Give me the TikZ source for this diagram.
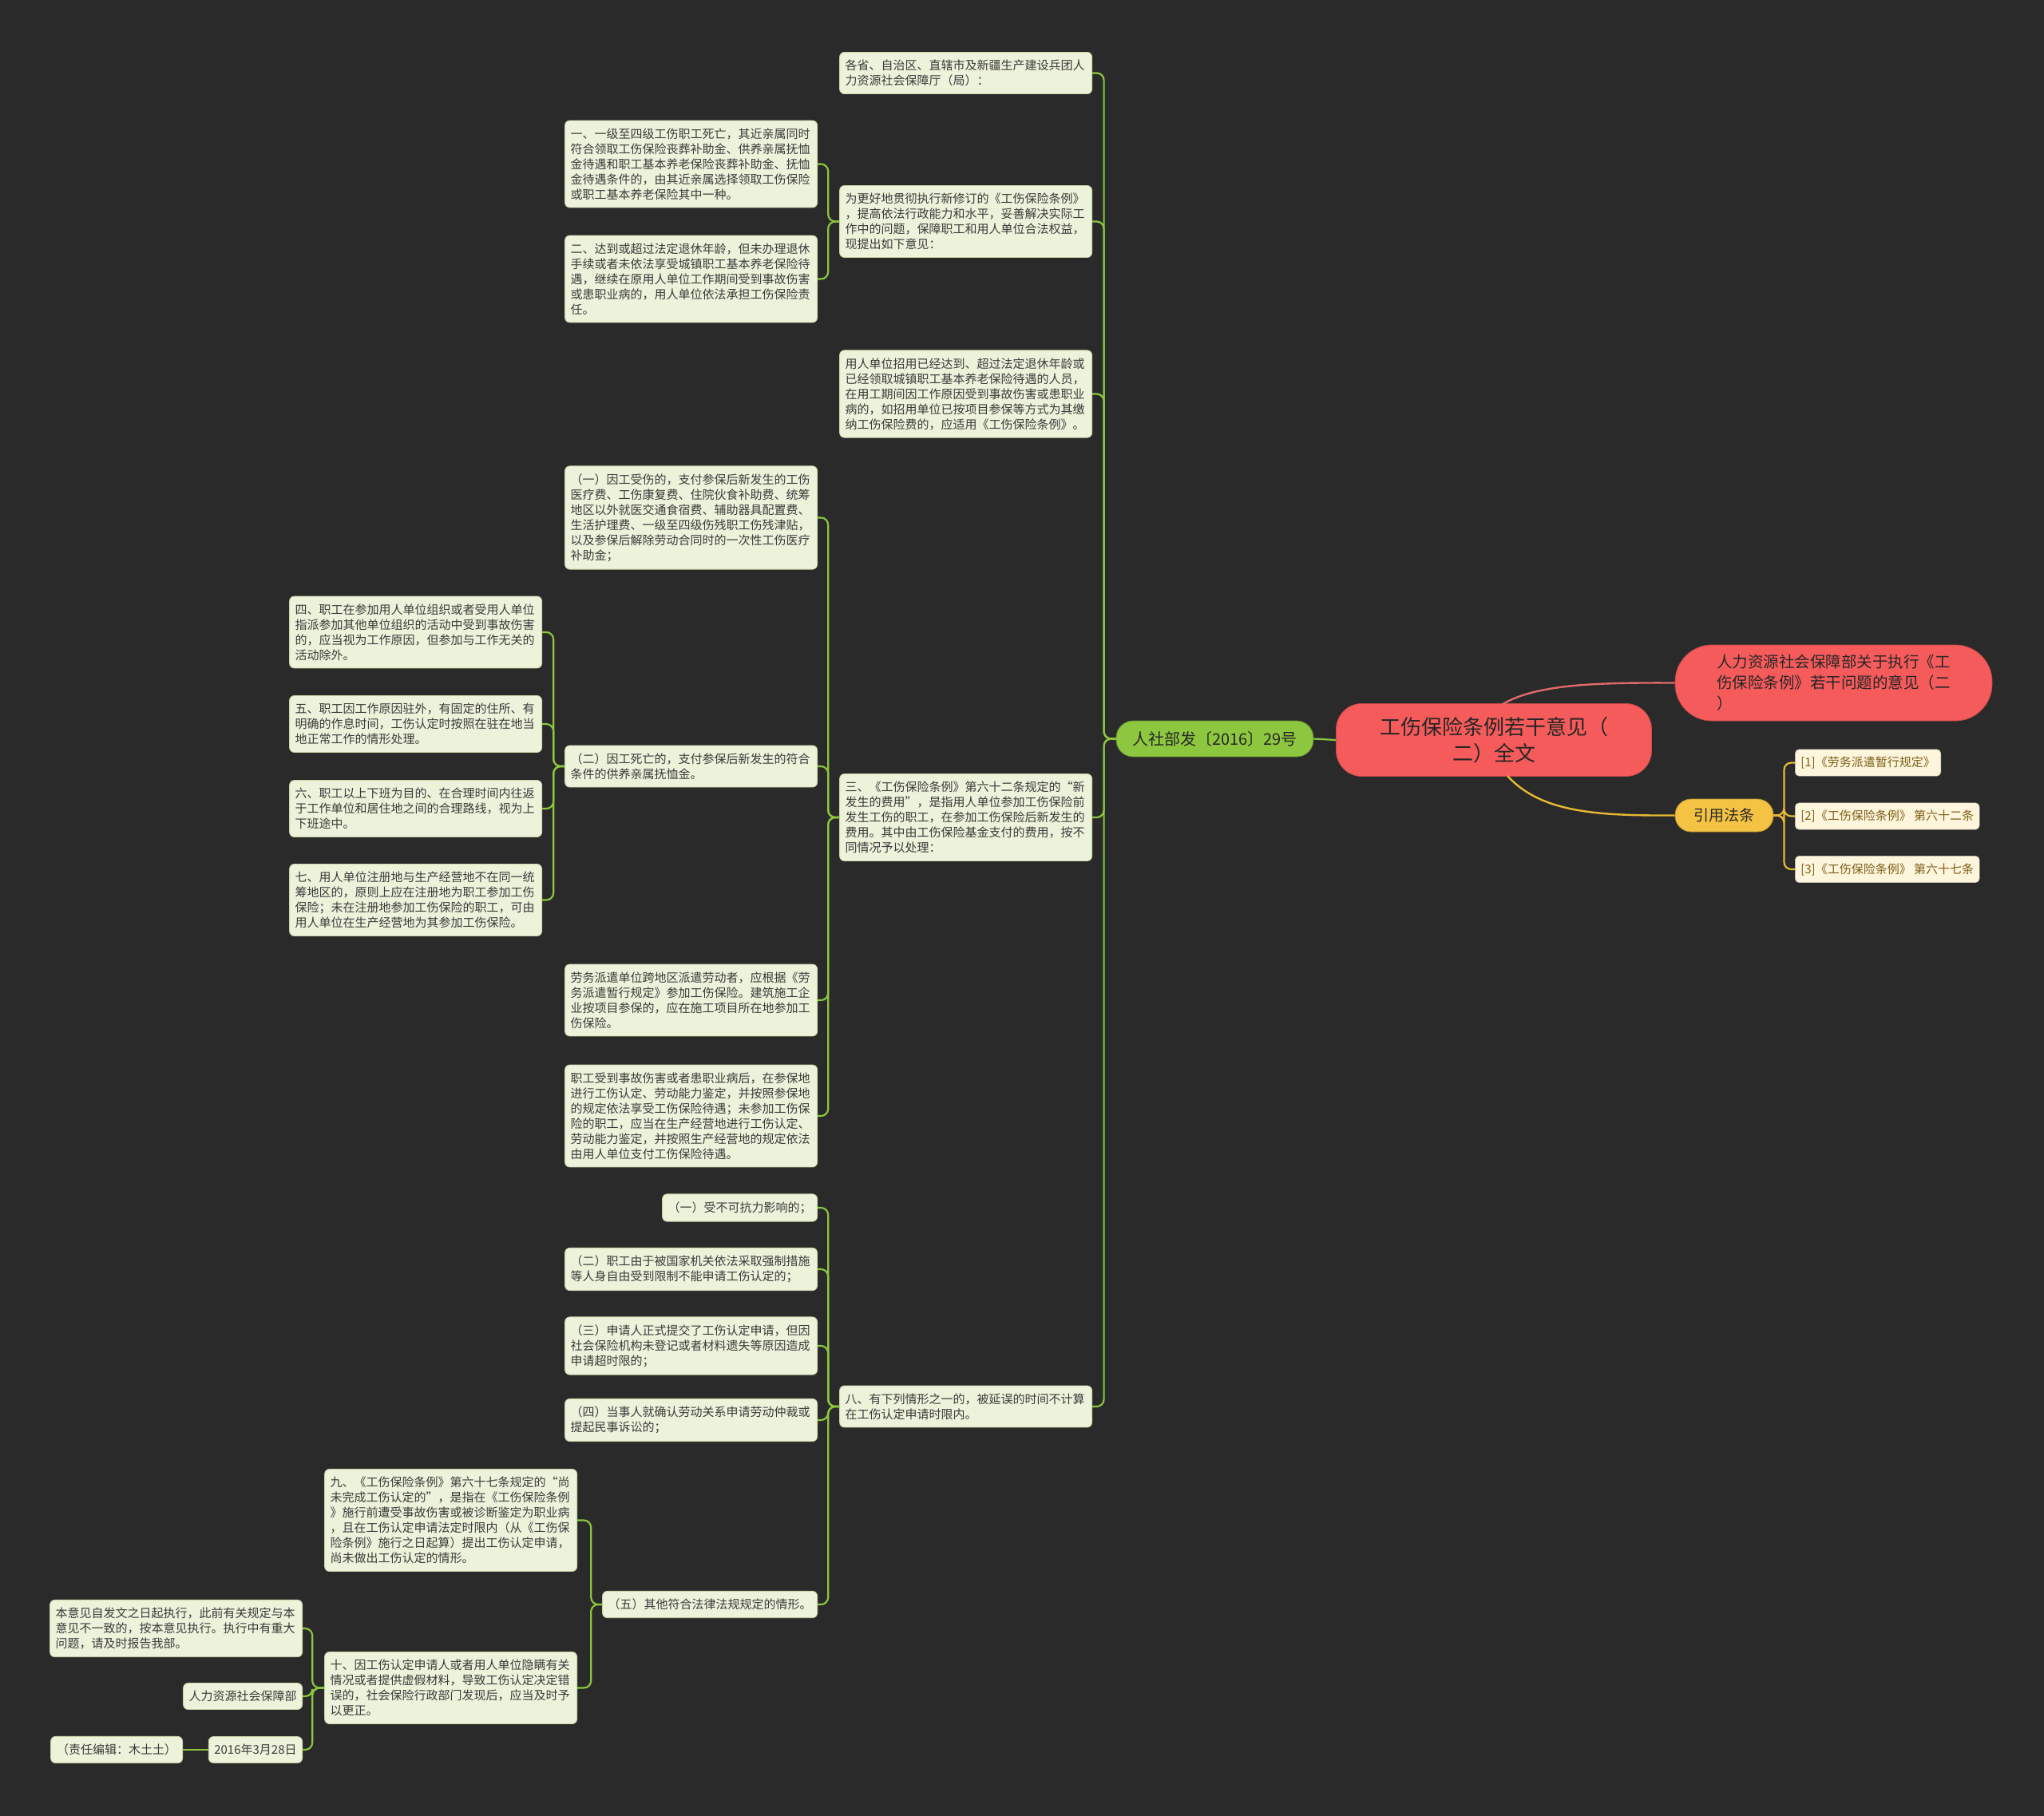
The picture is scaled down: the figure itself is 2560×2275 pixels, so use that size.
\documentclass[tikz,border=0pt]{standalone}
\usepackage{fontspec}
\setmainfont{Noto Sans CJK SC}
\definecolor{bg}{HTML}{2A2A2A}
\definecolor{boxfill}{HTML}{EDF3DB}
\definecolor{boxline}{HTML}{C8D4A6}
\definecolor{txt}{HTML}{3A3A3A}
\definecolor{lg}{HTML}{8CC63E}
\definecolor{greenfill}{HTML}{8DC63F}
\definecolor{rootred}{HTML}{F65B5B}
\definecolor{redline}{HTML}{E06A6A}
\definecolor{yel}{HTML}{F5C343}
\definecolor{yelline}{HTML}{E8B833}
\definecolor{citefill}{HTML}{FDF5DC}
\definecolor{citetxt}{HTML}{7D5F16}
\begin{document}
\begin{tikzpicture}[x=1pt,y=-1pt]
\tikzset{
  box/.style={draw=boxline, line width=0.8pt, fill=boxfill, rounded corners=6pt, inner xsep=7pt, inner ysep=9.5pt, align=left, text=txt, font=\fontsize{15}{19}\selectfont},
  wide/.style={text width=302pt},
  conn/.style={draw=lg, line width=2.2pt, rounded corners=9pt},
  yconn/.style={draw=yelline, line width=2.2pt, rounded corners=9pt},
  citebox/.style={fill=citefill, draw=citefill!80!black, line width=0.6pt, rounded corners=5pt, inner xsep=7pt, inner ysep=9pt, text=citetxt, font=\fontsize{15}{19}\selectfont, minimum height=33pt},
  rootnode/.style={fill=rootred, draw=rootred!80!black, line width=0.8pt, rounded corners=32pt, minimum width=395pt, minimum height=91pt, align=center, text=black!85, font=\fontsize{26}{33}\selectfont},
  titlenode/.style={fill=rootred, draw=rootred!80!black, line width=0.8pt, rounded corners=46pt, minimum width=397pt, minimum height=95pt, align=left, text=black!85, font=\fontsize{19.5}{26}\selectfont},
  greennode/.style={fill=greenfill, draw=greenfill!70!black, line width=0.8pt, rounded corners=21pt, minimum width=247pt, minimum height=45pt, text=black!85, font=\fontsize{20}{24}\selectfont},
  yelnode/.style={fill=yel, draw=yel!75!black, line width=0.8pt, rounded corners=20pt, minimum width=123pt, minimum height=41pt, text=black!85, font=\fontsize{19}{23}\selectfont},
}
\fill[bg] (0,0) rectangle (2560,2275);
\useasboundingbox (0,0) rectangle (2560,2275);

% central
\node[rootnode] (root) at (1871,927) {工伤保险条例若干意见（\\二）全文};
\node[titlenode] (title) at (2296.5,855.5) {人力资源社会保障部关于执行《工\\伤保险条例》若干问题的意见（二\\）};
\node[greennode] (doc) at (1521.5,925.5) {人社部发〔2016〕29号};
\node[yelnode] (cite) at (2159.5,1021.5) {引用法条};
\node[citebox, anchor=west] (c1) at (2248,955.5) {[1]《劳务派遣暂行规定》};
\node[citebox, anchor=west] (c2) at (2248,1022.5) {[2]《工伤保险条例》 第六十二条};
\node[citebox, anchor=west] (c3) at (2248,1089) {[3]《工伤保险条例》 第六十七条};

% right column
\node[box,wide,anchor=east] (a) at (1368,91.5) {各省、自治区、直辖市及新疆生产建设兵团人\\力资源社会保障厅（局）：};
\node[box,wide,anchor=east] (b) at (1368,277.5) {为更好地贯彻执行新修订的《工伤保险条例》\\，提高依法行政能力和水平，妥善解决实际工\\作中的问题，保障职工和用人单位合法权益，\\现提出如下意见：};
\node[box,wide,anchor=east] (c) at (1368,493.5) {用人单位招用已经达到、超过法定退休年龄或\\已经领取城镇职工基本养老保险待遇的人员，\\在用工期间因工作原因受到事故伤害或患职业\\病的，如招用单位已按项目参保等方式为其缴\\纳工伤保险费的，应适用《工伤保险条例》。};
\node[box,wide,anchor=east] (d) at (1368,1024) {三、《工伤保险条例》第六十二条规定的“新\\发生的费用”，是指用人单位参加工伤保险前\\发生工伤的职工，在参加工伤保险后新发生的\\费用。其中由工伤保险基金支付的费用，按不\\同情况予以处理：};
\node[box,wide,anchor=east] (e) at (1368,1762) {八、有下列情形之一的，被延误的时间不计算\\在工伤认定申请时限内。};

% children of b
\node[box,wide,anchor=east] (b1) at (1024,205.5) {一、一级至四级工伤职工死亡，其近亲属同时\\符合领取工伤保险丧葬补助金、供养亲属抚恤\\金待遇和职工基本养老保险丧葬补助金、抚恤\\金待遇条件的，由其近亲属选择领取工伤保险\\或职工基本养老保险其中一种。};
\node[box,wide,anchor=east] (b2) at (1024,349.5) {二、达到或超过法定退休年龄，但未办理退休\\手续或者未依法享受城镇职工基本养老保险待\\遇，继续在原用人单位工作期间受到事故伤害\\或患职业病的，用人单位依法承担工伤保险责\\任。};

% children of d
\node[box,wide,anchor=east] (d1) at (1024,648.5) {（一）因工受伤的，支付参保后新发生的工伤\\医疗费、工伤康复费、住院伙食补助费、统筹\\地区以外就医交通食宿费、辅助器具配置费、\\生活护理费、一级至四级伤残职工伤残津贴，\\以及参保后解除劳动合同时的一次性工伤医疗\\补助金；};
\node[box,wide,anchor=east] (d2) at (1024,960) {（二）因工死亡的，支付参保后新发生的符合\\条件的供养亲属抚恤金。};
\node[box,wide,anchor=east] (d3) at (1024,1253) {劳务派遣单位跨地区派遣劳动者，应根据《劳\\务派遣暂行规定》参加工伤保险。建筑施工企\\业按项目参保的，应在施工项目所在地参加工\\伤保险。};
\node[box,wide,anchor=east] (d4) at (1024,1398) {职工受到事故伤害或者患职业病后，在参保地\\进行工伤认定、劳动能力鉴定，并按照参保地\\的规定依法享受工伤保险待遇；未参加工伤保\\险的职工，应当在生产经营地进行工伤认定、\\劳动能力鉴定，并按照生产经营地的规定依法\\由用人单位支付工伤保险待遇。};

% children of d2
\node[box,wide,anchor=east] (s4) at (679,792) {四、职工在参加用人单位组织或者受用人单位\\指派参加其他单位组织的活动中受到事故伤害\\的，应当视为工作原因，但参加与工作无关的\\活动除外。};
\node[box,wide,anchor=east] (s5) at (679,907) {五、职工因工作原因驻外，有固定的住所、有\\明确的作息时间，工伤认定时按照在驻在地当\\地正常工作的情形处理。};
\node[box,wide,anchor=east] (s6) at (679,1013) {六、职工以上下班为目的、在合理时间内往返\\于工作单位和居住地之间的合理路线，视为上\\下班途中。};
\node[box,wide,anchor=east] (s7) at (679,1127.5) {七、用人单位注册地与生产经营地不在同一统\\筹地区的，原则上应在注册地为职工参加工伤\\保险；未在注册地参加工伤保险的职工，可由\\用人单位在生产经营地为其参加工伤保险。};

% children of e
\node[box,anchor=east] (e1) at (1024,1513) {（一）受不可抗力影响的；};
\node[box,wide,anchor=east] (e2) at (1024,1590) {（二）职工由于被国家机关依法采取强制措施\\等人身自由受到限制不能申请工伤认定的；};
\node[box,wide,anchor=east] (e3) at (1024,1686) {（三）申请人正式提交了工伤认定申请，但因\\社会保险机构未登记或者材料遗失等原因造成\\申请超时限的；};
\node[box,wide,anchor=east] (e4) at (1024,1779) {（四）当事人就确认劳动关系申请劳动仲裁或\\提起民事诉讼的；};
\node[box,anchor=east] (e5) at (1024,2010) {（五）其他符合法律法规规定的情形。};

% children of e5
\node[box,wide,anchor=east] (n9) at (723,1904.5) {九、《工伤保险条例》第六十七条规定的“尚\\未完成工伤认定的”，是指在《工伤保险条例\\》施行前遭受事故伤害或被诊断鉴定为职业病\\，且在工伤认定申请法定时限内（从《工伤保\\险条例》施行之日起算）提出工伤认定申请，\\尚未做出工伤认定的情形。};
\node[box,wide,anchor=east] (n10) at (723,2114.5) {十、因工伤认定申请人或者用人单位隐瞒有关\\情况或者提供虚假材料，导致工伤认定决定错\\误的，社会保险行政部门发现后，应当及时予\\以更正。};

% children of n10
\node[box,wide,anchor=east] (f1) at (379,2040) {本意见自发文之日起执行，此前有关规定与本\\意见不一致的，按本意见执行。执行中有重大\\问题，请及时报告我部。};
\node[box,anchor=east] (f2) at (379,2125) {人力资源社会保障部};
\node[box,anchor=east] (f3) at (379,2192) {2016年3月28日};
\node[box,anchor=east,minimum width=165pt,align=center] (f4) at (229,2192) {（责任编辑：木土土）};

% connectors
\draw[conn] (root.west) -- (doc.east);
\foreach \ch in {a,b,c,d,e}{\draw[conn] (doc.west) -- ++(-15,0) |- (\ch.east);}
\foreach \ch in {b1,b2}{\draw[conn] (b.west) -- ++(-14,0) |- (\ch.east);}
\foreach \ch in {d1,d2,d3,d4}{\draw[conn] (d.west) -- ++(-14,0) |- (\ch.east);}
\foreach \ch in {s4,s5,s6,s7}{\draw[conn] (d2.west) -- ++(-14,0) |- (\ch.east);}
\foreach \ch in {e1,e2,e3,e4,e5}{\draw[conn] (e.west) -- ++(-14,0) |- (\ch.east);}
\foreach \ch in {n9,n10}{\draw[conn] (e5.west) -- ++(-14,0) |- (\ch.east);}
\foreach \ch in {f1,f2,f3}{\draw[conn] (n10.west) -- ++(-15,0) |- (\ch.east);}
\draw[conn] (f3.west) -- (f4.east);

\coordinate (rtop) at (1882,882);
\coordinate (rbot) at (1888,972);
\draw[draw=redline, line width=2.4pt] (rtop) .. controls (1925,857) and (2000,855) .. (title.west);
\draw[draw=yelline, line width=2.4pt] (rbot) .. controls (1930,1018) and (2000,1022) .. (cite.west);
\foreach \ch in {c1,c2,c3}{\draw[yconn] (cite.east) -- ++(13,0) |- (\ch.west);}
\end{tikzpicture}
\end{document}
